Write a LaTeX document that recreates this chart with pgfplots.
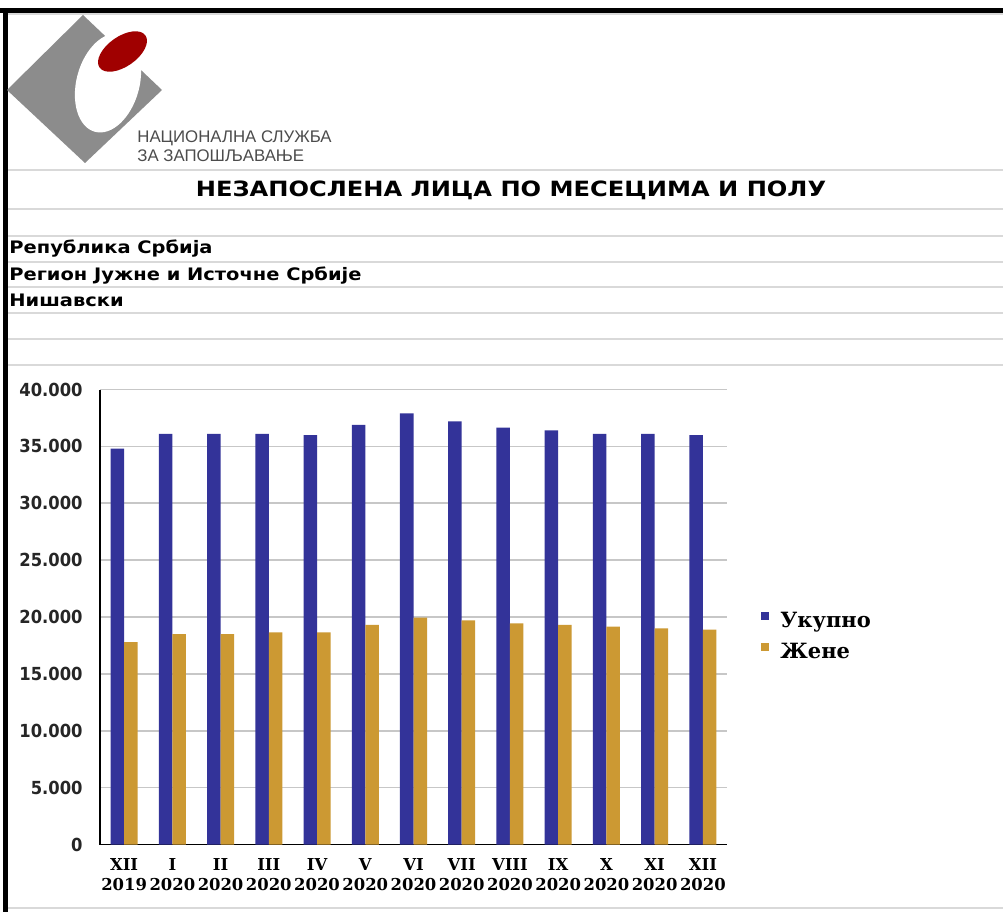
\documentclass[border=0pt]{standalone}
\usepackage{pgfplots}
\pgfplotsset{compat=1.18}
\usepackage{fontspec}
\newfontfamily\vb{DejaVu Sans}[FakeStretch=0.91]
\newfontfamily\ttl{DejaVu Sans}[FakeStretch=1.15]
\newfontfamily\sub{DejaVu Sans}[FakeStretch=1.13]
\newfontfamily\ser{DejaVu Serif}
\newfontfamily\ar{Liberation Sans}
\definecolor{ubl}{HTML}{333399}
\definecolor{zgo}{HTML}{CC9933}
\definecolor{sheet}{HTML}{D9D9D9}
\definecolor{logogray}{HTML}{8C8C8C}
\definecolor{logored}{HTML}{A00000}

\begin{document}
\begin{tikzpicture}[x=0.5pt,y=0.5pt]
\useasboundingbox (0,0) rectangle (1003,912);
\fill[white] (0,0) rectangle (1003,912);
% spreadsheet rows
\foreach \yy in {898,742,703,676,650,625,599,573,547,4}
  \draw[sheet, line width=1pt] (8,\yy) -- (1003,\yy);
% frame
\fill[black] (0,899) rectangle (1003,904);
\fill[black] (3,0) rectangle (8,904);
% logo
\fill[logogray] (7,822) -- (83,897) -- (162,822) -- (85,749) -- cycle;
\fill[white, rotate around={-15:(108,829)}] (108,829) ellipse [x radius=31.5, y radius=50.5];
\fill[logored, rotate around={35:(122.5,860.5)}] (122.5,860.5) ellipse [x radius=28, y radius=15];
\node[anchor=base west, inner sep=0pt, text=black!70] at (137,769.3) {\ar\fontsize{8.4}{9}\selectfont НАЦИОНАЛНА СЛУЖБА};
\node[anchor=base west, inner sep=0pt, text=black!70] at (137,750.3) {\ar\fontsize{8.4}{9}\selectfont ЗА ЗАПОШЉАВАЊЕ};
% titles
\node[anchor=base, inner sep=0pt] at (511,715.3) {\ttl\bfseries\fontsize{10.5}{12}\selectfont НЕЗАПОСЛЕНА ЛИЦА ПО МЕСЕЦИМА И ПОЛУ};
\node[anchor=base west, inner sep=0pt] at (9,658) {\sub\bfseries\fontsize{8.6}{9}\selectfont Република Србија};
\node[anchor=base west, inner sep=0pt] at (9,631.3) {\sub\bfseries\fontsize{8.6}{9}\selectfont Регион Јужне и Источне Србије};
\node[anchor=base west, inner sep=0pt] at (9,605.3) {\sub\bfseries\fontsize{8.6}{9}\selectfont Нишавски};

\begin{axis}[
  at={(50pt,33.75pt)}, anchor=south west,
  scale only axis, width=313.5pt, height=227.5pt,
  ybar, bar width=0.28,
  xmin=-0.5, xmax=12.5, ymin=0, ymax=40000,
  xtick={0,...,12},
  xticklabels={{XII\\2019},{I\\2020},{II\\2020},{III\\2020},{IV\\2020},{V\\2020},{VI\\2020},{VII\\2020},{VIII\\2020},{IX\\2020},{X\\2020},{XI\\2020},{XII\\2020}},
  xticklabel style={align=center, font=\ser\bfseries\fontsize{8.2}{10}\selectfont, inner sep=0pt, yshift=-7pt},
  ytick={0,5000,...,40000},
  scaled y ticks=false,
  yticklabel style={font=\vb\bfseries\fontsize{9}{10}\selectfont, text=black!85, inner sep=0pt, xshift=-8.5pt},
  /pgf/number format/.cd, 1000 sep={.}, assume math mode=true, /pgfplots/.cd,
  major tick length=0pt,
  axis lines=left, axis line style={-, black, line width=0.6pt},
  ymajorgrids, grid style={black!22, line width=0.8pt},
  legend style={at={(1.0542,0.455)}, anchor=west, draw=none, fill=none, inner sep=0pt,
    column sep=5.5pt, row sep=5pt,
    nodes={inner sep=0pt, text height=8pt, text depth=2.5pt},
    font=\ser\bfseries\fontsize{10.5}{12}\selectfont},
  legend cell align=left,
  legend image code/.code={\fill[#1] (0pt,0.75pt) rectangle (4pt,4.75pt);},
]
\addplot[fill=ubl, draw=none, bar shift=-0.14] coordinates {
  (0,34800) (1,36100) (2,36100) (3,36100) (4,36000) (5,36900) (6,37900)
  (7,37200) (8,36650) (9,36400) (10,36100) (11,36100) (12,36000)
};
\addlegendentry{Укупно}
\addplot[fill=zgo, draw=none, bar shift=0.14] coordinates {
  (0,17800) (1,18500) (2,18500) (3,18650) (4,18650) (5,19300) (6,19950)
  (7,19700) (8,19450) (9,19300) (10,19150) (11,19000) (12,18900)
};
\addlegendentry{Жене}
\end{axis}
\end{tikzpicture}
\end{document}
